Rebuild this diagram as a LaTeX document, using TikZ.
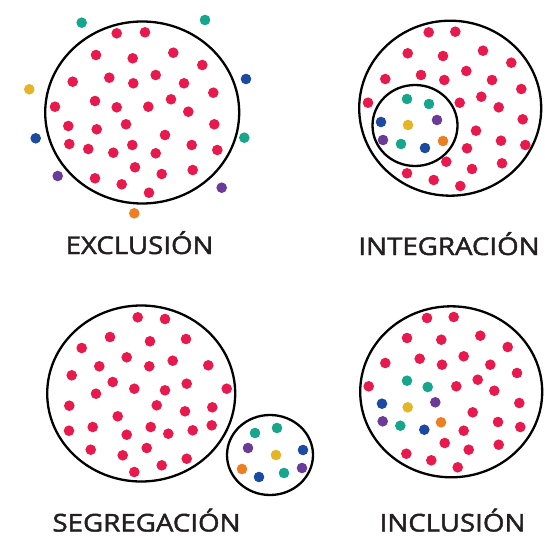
\documentclass[tikz,border=0pt]{standalone}
\usepackage{fontspec}
\setmainfont{Open Sans}[FakeStretch=1.13,FakeBold=1.8]
\definecolor{dred}{HTML}{E8194D}
\definecolor{dteal}{HTML}{17A68C}
\definecolor{dblue}{HTML}{1C4AA0}
\definecolor{dyellow}{HTML}{E6B525}
\definecolor{dpurple}{HTML}{6A3C97}
\definecolor{dorange}{HTML}{EE7E22}
\definecolor{txt}{HTML}{231F20}
\tikzset{
  ring/.style={draw=black, line width=2.3pt},
  lbl/.style={anchor=base, text=txt, inner sep=0pt, font=\fontsize{24.5}{24.5}\selectfont},
}
\newcommand{\mydots}[2]{\foreach \x/\y in {#2} \fill[#1] (\x,\y) circle (5.3pt);}
\begin{document}
\begin{tikzpicture}[x=1pt,y=-1pt]
\useasboundingbox (0,0) rectangle (545,537);
% ---------- EXCLUSION ----------
\draw[ring] (142.2,112.5) ellipse [x radius=97pt, y radius=91pt];
\mydots{dred}{116.7/33.3,145/32.3,96/55,132.7/58.3,173.3/52.7,202.3/65,72.7/81.7,109.3/77.7,133.3/83.3,155.7/75,184/83.3,213.3/92.7,55/106.7,95/101,116.7/107.3,148.3/106.7,171/99.3,188.3/111.7,68.3/126,96.7/129.3,126/124.3,214.3/124.3,165/135,69.3/144,88.3/149,113.3/152.7,132.3/145,155.7/153.3,191.7/145,217.3/150,135/167.3,161.7/174,192.7/170,95/178.3,121.7/184.3,149/192.7}
\mydots{dteal}{81.7/22.7,205/20,244.3/137.7}
\mydots{dyellow}{29.3/89.3}
\mydots{dblue}{246/79,35.7/138.3}
\mydots{dpurple}{57.7/176,221.7/187.7}
\mydots{dorange}{134.3/213.3}
\node[lbl] (exc) at (139.5,254) {EXCLUSIÓN};
% ---------- INTEGRACION ----------
\draw[ring] (450.2,108.2) ellipse [x radius=91pt, y radius=87.5pt];
\draw[ring] (415,125.5) ellipse [x radius=42.5pt, y radius=40.5pt];
\mydots{dred}{428.7/32.3,455.3/31.7,407.7/53.3,443/56,483/50.7,511.3/62.7,385.3/79,421/75,444.3/80,466.3/71,492/80,521.3/89,368/102.7,459.7/102.7,481.3/96.7,498.7/107.3,522.7/119.3,476/130.7,467/148.3,501/140.7,525.3/145,446.3/161.7,472/169,502/163.3,407/173.3,433.7/180,460.3/186}
\mydots{dteal}{407/99,429/104,401/144}
\mydots{dblue}{381/122,425/148}
\mydots{dyellow}{408/125}
\mydots{dpurple}{437/120,383/140}
\mydots{dorange}{443/141}
\node[lbl] (int) at (449,255) {INTEGRACIÓN};
% ---------- SEGREGACION ----------
\draw[ring] (141.2,393.5) ellipse [x radius=94pt, y radius=88pt];
\draw[ring] (270,455) ellipse [x radius=43pt, y radius=40pt];
\mydots{dred}{137.7/317.3,165/319,110/337,150/341.3,186/339,81.7/348,126.7/357.3,99.3/366.3,149.3/366.3,172.7/360.7,208.3/365.3,71.7/375.3,112.7/382,134.3/388.7,165/390.3,186.7/383.7,226.7/388.7,96/393.7,69.3/405.7,156.7/405.3,185/411.3,212.3/407.3,117.7/416.3,92.7/427,69/430.7,126.7/434.7,150.7/427,168.3/433.7,192.7/430.3,211.7/425.3,90.7/449.7,122.7/455.3,146.7/448,161.7/465.3,186.7/458.7,134.3/472}
\mydots{dteal}{255/433,277/428,284/473}
\mydots{dpurple}{248/448,302/468}
\mydots{dyellow}{276/455}
\mydots{dblue}{303/450,259/477}
\mydots{dorange}{242/469}
\node[lbl] (seg) at (146.5,531.5) {SEGREGACIÓN};
% ---------- INCLUSION ----------
\draw[ring] (451.2,391.8) ellipse [x radius=91pt, y radius=85.5pt];
\mydots{dred}{427/318,453.7/317,407/338,441.3/339.7,480.3/335.7,507.7/347,385.3/363,419.7/358.7,442/364.7,463.7/356.3,490.3/364.7,517/373,368.7/386.3,456.3/386.3,477.7/379.7,494.3/390.7,519.3/403,472.7/412.3,463.7/430.7,498/422,520.3/427,444.7/443,468.7/449.7,498.7/444.7,406.3/453.7,431.3/460.3,457.7/467.3}
\mydots{dteal}{407/380.7,427.7/387,400.3/425.7}
\mydots{dblue}{382/403.7,424.3/429.7}
\mydots{dyellow}{407.7/407.3}
\mydots{dpurple}{435.3/402.3,382.7/421.3}
\mydots{dorange}{441/422.3}
\node[lbl] (inc) at (452.5,531.5) {INCLUSIÓN};
\end{tikzpicture}
\end{document}
